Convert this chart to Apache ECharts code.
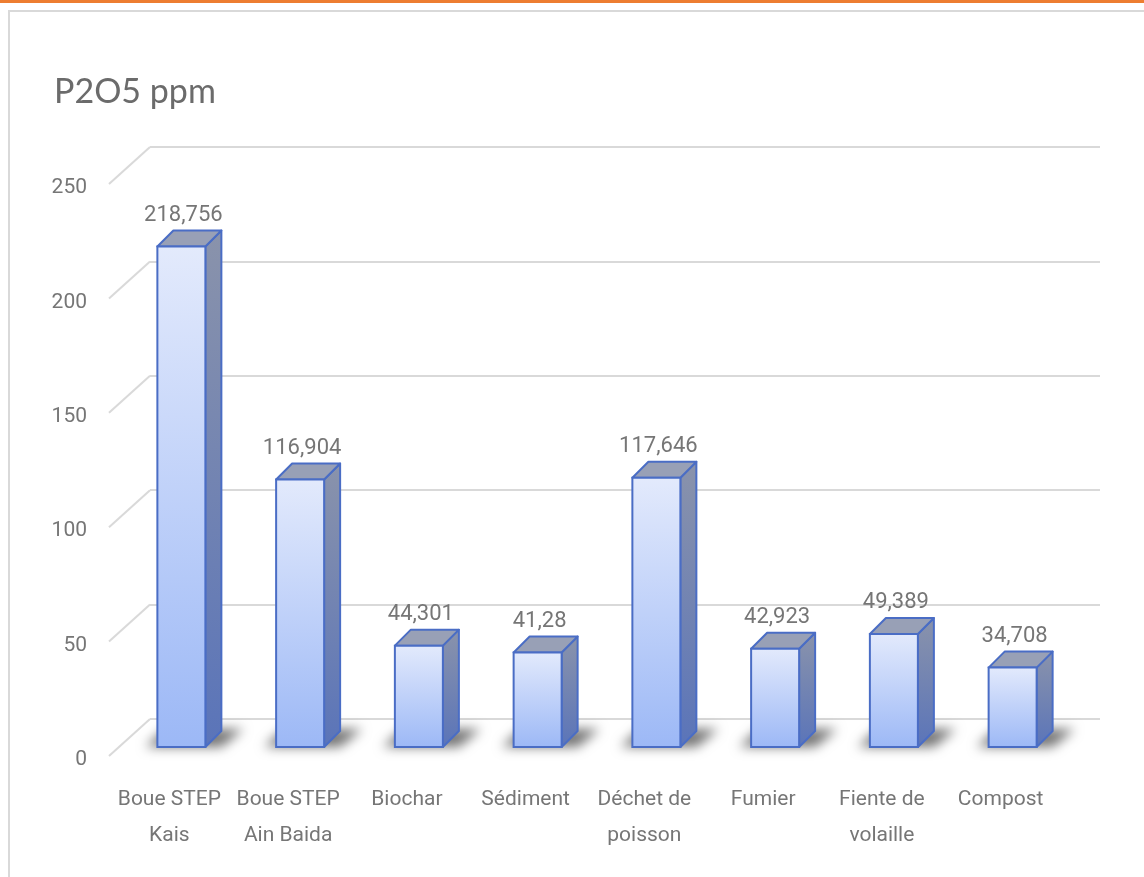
<!DOCTYPE html>
<html>
<head>
<meta charset="utf-8">
<script src="https://cdn.jsdelivr.net/npm/echarts@6/dist/echarts.min.js"></script>
<style>
  html, body { margin: 0; padding: 0; background: #ffffff; }
  #chart { width: 1144px; height: 877px; }
</style>
</head>
<body>
<div id="chart"></div>
<script>
// P2O5 content (ppm) per material
const categories = [
  'Boue STEP\nKais', 'Boue STEP\nAin Baida', 'Biochar', 'Sédiment',
  'Déchet de\npoisson', 'Fumier', 'Fiente de\nvolaille', 'Compost'
];
const values = [218.756, 116.904, 44.301, 41.28, 117.646, 42.923, 49.389, 34.708];
const yTicks = [0, 50, 100, 150, 200, 250];
const titleText = 'P2O5 ppm';

// Oblique 3D look: pixel shifts relative to the back wall
const FLOOR_EDGE = [-41, 37];   // front edge of floor / side wall
const BAR_FRONT = [-28, 28];    // front face of the columns
const BAR_DEPTH = [16, -16];    // column depth
const BAR_W = 48;

const FONT = "Roboto, 'Liberation Sans', sans-serif";
const TEXT_COLOR = '#767676';
const EDGE = '#4a6dc5';

// Comma as decimal separator
const fmt = v => String(v).replace('.', ',');

const chart = echarts.init(document.getElementById('chart'), null, { renderer: 'canvas' });

function renderDepthLine(params, api) {
  const cs = params.coordSys;
  const p = api.coord([0, api.value(1)]);
  return {
    type: 'line',
    shape: { x1: cs.x + FLOOR_EDGE[0], y1: p[1] + FLOOR_EDGE[1], x2: cs.x, y2: p[1] },
    style: { stroke: '#d9d9d9', lineWidth: 2 },
    silent: true
  };
}

function renderShadow(params, api) {
  const base = api.coord([api.value(0), 0]);
  const cx = base[0] + BAR_FRONT[0];
  const by = base[1] + BAR_FRONT[1];
  const x0 = cx - BAR_W / 2, x1 = cx + BAR_W / 2;
  const off = 3000;
  return {
    type: 'polygon',
    shape: {
      points: [
        [x0 - 12 - off, by], [x1 + 16 - off, by],
        [x1 + 38 - off, by - 18], [x0 + 8 - off, by - 18]
      ]
    },
    style: {
      fill: '#000',
      shadowColor: 'rgba(0,0,0,0.55)',
      shadowBlur: 12,
      shadowOffsetX: off,
      shadowOffsetY: 0
    },
    silent: true
  };
}

function renderBar(params, api) {
  const i = api.value(0);
  const v = api.value(1);
  const base = api.coord([i, 0]);
  const top = api.coord([i, v]);
  const cx = base[0] + BAR_FRONT[0];
  const yb = base[1] + BAR_FRONT[1];
  const yt = top[1] + BAR_FRONT[1];
  const x0 = cx - BAR_W / 2, x1 = cx + BAR_W / 2;
  const dx = BAR_DEPTH[0], dy = BAR_DEPTH[1];
  return {
    type: 'group',
    children: [
      {
        type: 'polygon',
        shape: { points: [[x1, yb], [x1 + dx, yb + dy], [x1 + dx, yt + dy], [x1, yt]] },
        style: {
          fill: new echarts.graphic.LinearGradient(0, 0, 0, 1, [
            { offset: 0, color: '#8a93ab' },
            { offset: 1, color: '#5a74b9' }
          ]),
          stroke: EDGE, lineWidth: 2, lineJoin: 'round'
        }
      },
      {
        type: 'polygon',
        shape: { points: [[x0, yt], [x1, yt], [x1 + dx, yt + dy], [x0 + dx, yt + dy]] },
        style: { fill: '#98a0b6', stroke: EDGE, lineWidth: 2, lineJoin: 'round' }
      },
      {
        type: 'rect',
        shape: { x: x0, y: yt, width: BAR_W, height: yb - yt },
        style: {
          fill: new echarts.graphic.LinearGradient(0, 0, 0, 1, [
            { offset: 0, color: '#e3eafc' },
            { offset: 1, color: '#9cb8f6' }
          ]),
          stroke: EDGE, lineWidth: 2
        }
      },
      {
        type: 'text',
        style: {
          text: fmt(v),
          x: cx + 2,
          y: yt + dy - 15,
          align: 'center',
          verticalAlign: 'middle',
          font: "22px " + FONT,
          fill: TEXT_COLOR
        }
      }
    ]
  };
}

const barData = values.map((v, i) => [i, v]);

const option = {
  backgroundColor: '#ffffff',
  animation: false,
  title: {
    text: titleText,
    left: 49,
    top: 70,
    textStyle: { fontFamily: 'Lato, sans-serif', fontSize: 34, fontWeight: 'normal', color: '#6b6b6b' }
  },
  graphic: [
    { type: 'rect', shape: { x: 0, y: 0, width: 1144, height: 3 }, style: { fill: '#ED7D31' }, silent: true },
    { type: 'rect', shape: { x: 9, y: 11, width: 1400, height: 1200 }, style: { fill: 'none', stroke: '#d9d9d9', lineWidth: 2 }, silent: true }
  ],
  grid: [
    // back wall
    { left: 150, top: 147, width: 950, height: 572 },
    // front plane carrying the axis labels
    { left: 110, top: 188, width: 950, height: 572 }
  ],
  xAxis: [
    { type: 'category', gridIndex: 0, data: categories, show: false },
    {
      type: 'category', gridIndex: 1, data: categories,
      axisLine: { show: false }, axisTick: { show: false },
      axisLabel: {
        interval: 0, margin: 22, color: TEXT_COLOR,
        fontFamily: FONT, fontSize: 21, lineHeight: 36
      }
    }
  ],
  yAxis: [
    {
      type: 'value', gridIndex: 0, min: 0, max: 250, interval: 50,
      axisLine: { show: false }, axisTick: { show: false }, axisLabel: { show: false },
      splitLine: { show: true, lineStyle: { color: '#d9d9d9', width: 2 } }
    },
    {
      type: 'value', gridIndex: 1, min: 0, max: 250, interval: 50,
      axisLine: { show: false }, axisTick: { show: false }, splitLine: { show: false },
      axisLabel: { margin: 23, color: TEXT_COLOR, fontFamily: FONT, fontSize: 21 }
    }
  ],
  series: [
    {
      type: 'custom', name: 'depth', xAxisIndex: 0, yAxisIndex: 0,
      renderItem: renderDepthLine,
      data: yTicks.map(t => [0, t]),
      encode: { x: 0, y: 1 }, z: 1, silent: true
    },
    {
      type: 'custom', name: 'shadow', xAxisIndex: 0, yAxisIndex: 0,
      renderItem: renderShadow,
      data: barData,
      encode: { x: 0, y: 1 }, z: 2, silent: true
    },
    {
      type: 'custom', name: 'P2O5', xAxisIndex: 0, yAxisIndex: 0,
      renderItem: renderBar,
      data: barData,
      encode: { x: 0, y: 1 }, z: 3
    }
  ]
};

chart.setOption(option);
</script>
</body>
</html>
